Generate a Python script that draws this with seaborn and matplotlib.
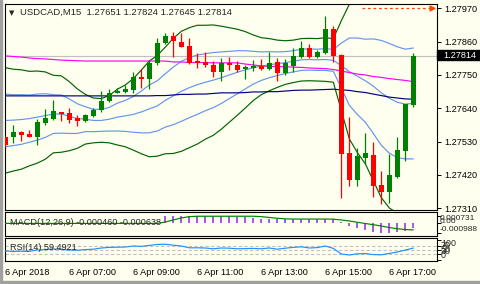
import numpy as np
import pandas as pd
import matplotlib
matplotlib.use("Agg")
import matplotlib.pyplot as plt
from matplotlib.patches import Rectangle
import seaborn as sns

# ---------------- data ----------------
symbol_text = "USDCAD,M15  1.27651 1.27824 1.27645 1.27814"
open_ = [1.27545, 1.27545, 1.27561, 1.27555, 1.27545, 1.27591, 1.27604, 1.27627, 1.27624, 1.27608,
         1.27598, 1.27614, 1.27634, 1.27664, 1.27690, 1.27693, 1.27700, 1.27743, 1.27736, 1.27789,
         1.27855, 1.27878, 1.27858, 1.27845, 1.27796, 1.27792, 1.27783, 1.27759, 1.27789, 1.27783,
         1.27769, 1.27773, 1.27779, 1.27769, 1.27792, 1.27756, 1.27779, 1.27809, 1.27839, 1.27809,
         1.27822, 1.27901, 1.27816, 1.27492, 1.27403, 1.27476, 1.27486, 1.27387, 1.27363, 1.27413,
         1.27499, 1.27651]
high = [1.27548, 1.27585, 1.27565, 1.27568, 1.27604, 1.27637, 1.27667, 1.27628, 1.27641, 1.27618,
        1.27621, 1.27641, 1.27697, 1.27703, 1.27707, 1.27717, 1.27759, 1.27769, 1.27799, 1.27872,
        1.27888, 1.27891, 1.27888, 1.27872, 1.27822, 1.27825, 1.27796, 1.27806, 1.27809, 1.27796,
        1.27783, 1.27799, 1.27802, 1.27825, 1.27806, 1.27802, 1.27839, 1.27862, 1.27852, 1.27832,
        1.27944, 1.27911, 1.27818, 1.27611, 1.27509, 1.27558, 1.27528, 1.27433, 1.27489, 1.27545,
        1.27654, 1.27824]
low = [1.27512, 1.27525, 1.27532, 1.27545, 1.27519, 1.27585, 1.27601, 1.27598, 1.27591, 1.27581,
       1.27594, 1.27611, 1.27627, 1.27660, 1.27689, 1.27690, 1.27690, 1.27707, 1.27703, 1.27783,
       1.27852, 1.27809, 1.27841, 1.27786, 1.27773, 1.27776, 1.27743, 1.27730, 1.27766, 1.27759,
       1.27736, 1.27763, 1.27766, 1.27766, 1.27730, 1.27750, 1.27759, 1.27807, 1.27806, 1.27807,
       1.27819, 1.27793, 1.27344, 1.27383, 1.27383, 1.27456, 1.27347, 1.27324, 1.27327, 1.27410,
       1.27466, 1.27645]
close = [1.27519, 1.27561, 1.27552, 1.27545, 1.27594, 1.27608, 1.27631, 1.27621, 1.27601, 1.27598,
         1.27618, 1.27634, 1.27664, 1.27690, 1.27697, 1.27703, 1.27743, 1.27736, 1.27789, 1.27855,
         1.27878, 1.27862, 1.27842, 1.27789, 1.27789, 1.27783, 1.27759, 1.27789, 1.27783, 1.27766,
         1.27776, 1.27779, 1.27769, 1.27789, 1.27756, 1.27789, 1.27812, 1.27839, 1.27809, 1.27825,
         1.27901, 1.27812, 1.27489, 1.27403, 1.27482, 1.27492, 1.27383, 1.27363, 1.27420, 1.27502,
         1.27654, 1.27814]
ma_magenta = [1.27813, 1.27811, 1.27809, 1.27806, 1.27804, 1.27803, 1.27801, 1.27799, 1.27798, 1.27797,
              1.27796, 1.27796, 1.27796, 1.27796, 1.27796, 1.27796, 1.27796, 1.27796, 1.27796, 1.27796,
              1.27796, 1.27793, 1.27793, 1.27791, 1.27791, 1.27791, 1.27790, 1.27790, 1.27790, 1.27790,
              1.27786, 1.27783, 1.27780, 1.27778, 1.27778, 1.27777, 1.27776, 1.27775, 1.27773, 1.27772,
              1.27771, 1.27768, 1.27763, 1.27758, 1.27753, 1.27750, 1.27745, 1.27742, 1.27738, 1.27735,
              1.27732, 1.27728]
ma_navy = [1.27681] * 19 + [1.27682, 1.27682, 1.27684, 1.27686, 1.27686, 1.27687, 1.27687, 1.27689,
           1.27691, 1.27691, 1.27691, 1.27692, 1.27694, 1.27694, 1.27695, 1.27695, 1.27697, 1.27699,
           1.27700, 1.27700, 1.27701, 1.27702, 1.27703, 1.27701, 1.27699, 1.27695, 1.27692, 1.27687,
           1.27682, 1.27677, 1.27674, 1.27671, 1.27670]
bb_mid = [1.27600, 1.27601, 1.27603, 1.27606, 1.27611, 1.27616, 1.27621, 1.27621, 1.27614, 1.27606,
          1.27604, 1.27600, 1.27600, 1.27604, 1.27611, 1.27615, 1.27620, 1.27628, 1.27638, 1.27648,
          1.27666, 1.27681, 1.27696, 1.27708, 1.27718, 1.27726, 1.27733, 1.27741, 1.27750, 1.27759,
          1.27767, 1.27774, 1.27779, 1.27784, 1.27787, 1.27791, 1.27795, 1.27800, 1.27801, 1.27800,
          1.27801, 1.27798, 1.27781, 1.27761, 1.27746, 1.27731, 1.27713, 1.27691, 1.27673, 1.27660,
          1.27654, 1.27656]
bb_dev = [0.00087, 0.00084, 0.00082, 0.00078, 0.00076, 0.00072, 0.00064, 0.00063, 0.00057, 0.00049,
          0.00041, 0.00037, 0.00036, 0.00039, 0.00046, 0.00051, 0.00059, 0.00069, 0.00079, 0.00083,
          0.00088, 0.00095, 0.00099, 0.00099, 0.00098, 0.00094, 0.00091, 0.00085, 0.00078, 0.00071,
          0.00063, 0.00054, 0.00047, 0.00043, 0.00039, 0.00036, 0.00035, 0.00035, 0.00035, 0.00035,
          0.00036, 0.00036, 0.00074, 0.00111, 0.00126, 0.00137, 0.00156, 0.00173, 0.00181, 0.00183,
          0.00181, 0.00183]
macd_main = [0.0] * 20 + [0.00070, 0.00073, 0.00072, 0.00071, 0.00072, 0.00073, 0.00073, 0.00072,
             0.00071, 0.00069, 0.00066, 0.00052, 0.00045, 0.00042, 0.00040, 0.00040, 0.00042, 0.00043,
             0.00041, 0.00040, 0.00045, 0.00046, 0.00010, -0.00025, -0.00045, -0.00062, -0.00085,
             -0.00099, -0.00097, -0.00085, -0.00072, -0.00046]
macd_signal = [0.00001] * 20 + [0.00015, 0.00035, 0.00055, 0.00068, 0.00072, 0.00072, 0.00072, 0.00072,
               0.00072, 0.00072, 0.00072, 0.00072, 0.00068, 0.00060, 0.00052, 0.00046, 0.00044, 0.00044,
               0.00044, 0.00044, 0.00044, 0.00043, 0.00035, 0.00025, 0.00012, 0.00000, -0.00012,
               -0.00025, -0.00040, -0.00052, -0.00060, -0.00064]
rsi = [45, 43, 44, 43, 50, 52, 55, 53, 50, 49, 52, 54, 60, 63, 64, 65, 70, 68, 73, 78,
       79, 74, 70, 61, 61, 60, 56, 60, 59, 56, 57, 58, 56, 60, 54, 59, 63, 66, 60, 62,
       70, 58, 30, 25, 31, 32, 27, 26, 33, 40, 50, 59.49]
macd_text = "MACD(12,26,9) -0.000460 -0.000638"
rsi_text = "RSI(14) 59.4921"
time_labels = ["6 Apr 2018", "6 Apr 07:00", "6 Apr 09:00", "6 Apr 11:00",
               "6 Apr 13:00", "6 Apr 15:00", "6 Apr 17:00"]
time_label_idx = [0, 8, 16, 24, 32, 40, 48]
price_ticks = [1.27970, 1.27860, 1.27750, 1.27640, 1.27530, 1.27420, 1.27310]
last_price = 1.27814
alert_price = 1.27970
alert_from = 44.6
macd_ticks = [0.000731, 0.0, -0.000988]
macd_tick_labels = ["0.000731", "0.00", "-0.000988"]
rsi_ticks = [100, 70, 50, 30, 0]
rsi_levels = [70, 50, 30]

# ---------------- styling ----------------
sns.set_style("white")
plt.rcParams["font.family"] = ["Liberation Sans", "DejaVu Sans"]
BG = "#FFFFF0"
UP = "#008000"
DN = "#FF0000"
FS = 6.6

W, H = 481, 284
fig = plt.figure(figsize=(W / 100, H / 100), dpi=100)
fig.patch.set_facecolor(BG)


def px_axes(x0, y0, x1, y1):
    return fig.add_axes([x0 / W, 1 - y1 / H, (x1 - x0) / W, (y1 - y0) / H])


def fig_rect(x0, y0, x1, y1, color, z=0):
    fig.patches.append(Rectangle((x0 / W, 1 - y1 / H), (x1 - x0) / W, (y1 - y0) / H,
                                 transform=fig.transFigure, color=color, zorder=z))


n = len(close)
idx = np.arange(n)
df = pd.DataFrame({"i": idx, "open": open_, "high": high, "low": low, "close": close,
                   "mag": ma_magenta, "navy": ma_navy, "mid": bb_mid, "dev": bb_dev,
                   "macd": macd_main, "sig": macd_signal, "rsi": rsi})
df["up1"] = df["mid"] + df["dev"]
df["lo1"] = df["mid"] - df["dev"]
df["up2"] = df["mid"] + 2 * df["dev"]
df["lo2"] = df["mid"] - 2 * df["dev"]

XL = (-0.0375, 53.96)
LW = 0.85


def style_ax(ax):
    ax.set_facecolor(BG)
    for s in ax.spines.values():
        s.set_color("black")
        s.set_linewidth(0.8)
    ax.set_xlim(*XL)
    ax.tick_params(axis="both", labelsize=FS, length=3, width=0.7, color="black",
                   pad=2, labelcolor="black")


# main panel
ax = px_axes(5, 4, 437, 210)
style_ax(ax)
ax.set_ylim(1.279974 - 0.000033 * 210, 1.279974 - 0.000033 * 4)
ax.axhline(last_price, color="#C0C0C0", lw=LW, zorder=1)

for col, c in [("up2", "#006400"), ("lo2", "#006400"), ("up1", "#6495ED"),
               ("mid", "#6495ED"), ("lo1", "#6495ED"), ("mag", "#FF00FF"), ("navy", "#000080")]:
    sns.lineplot(data=df, x="i", y=col, color=c, lw=LW, ax=ax, zorder=2)

colors = [UP if c >= o else DN for o, c in zip(open_, close)]
ax.vlines(idx, low, high, colors=colors, lw=0.9, zorder=3)
bottoms = np.minimum(open_, close)
heights = np.maximum(np.abs(np.array(close) - np.array(open_)), 0.00003)
ax.bar(idx, heights, bottom=bottoms, width=0.64, color=colors, linewidth=0, zorder=4)

ax.hlines(alert_price, alert_from, 53.15, colors="#FF4500", lw=0.9,
          linestyles=(0, (2.2, 2.2)), zorder=5)
ax.plot([53.35], [alert_price], marker=">", ms=3.5, color="#FF4500", zorder=5, clip_on=False)

ax.yaxis.tick_right()
ax.set_yticks(price_ticks)
ax.set_yticklabels([f"{p:.5f}" for p in price_ticks])
ax.set_xticks([])
ax.set_xlabel("")
ax.set_ylabel("")

# current price box
fig_rect(437.5, 50, 481, 60, "black", z=5)
fig.text(443 / W, 1 - 55.3 / H, f"{last_price:.5f}", fontsize=FS, color="white",
         ha="left", va="center", zorder=6)

fig.text(9 / W, 1 - 13 / H, "\u25BC", fontsize=5, family="DejaVu Sans", va="center", ha="left")
fig.text(20 / W, 1 - 12.8 / H, symbol_text, fontsize=6.8, va="center", ha="left")

# MACD panel (zero level near y=223.5 px)
axm = px_axes(5, 212, 437, 236)
style_ax(axm)
axm.set_ylim(-0.00124, 0.00114)
axm.vlines(idx, 0, macd_main, colors="#8A2BE2", lw=1.1, zorder=2)
sns.lineplot(data=df, x="i", y="sig", color="#008000", lw=LW, ax=axm, zorder=3)
axm.yaxis.tick_right()
axm.set_yticks(macd_ticks)
axm.set_yticklabels([])
axm.set_xticks([])
axm.set_xlabel("")
axm.set_ylabel("")
for lab, ypx in zip(macd_tick_labels, [218.0, 221.5, 229.5]):
    fig.text(440 / W, 1 - ypx / H, lab, fontsize=6.0, ha="left", va="center")
axm.text(5 / 432, 0.55, macd_text, transform=axm.transAxes, fontsize=FS, va="center", ha="left")

# RSI panel
axr = px_axes(5, 238, 437, 261)
style_ax(axr)
axr.set_ylim(-5, 110)
for lv in rsi_levels:
    axr.axhline(lv, color="#C0C0C0", lw=0.8, ls=(0, (3, 2)), zorder=1)
sns.lineplot(data=df, x="i", y="rsi", color="#1E90FF", lw=LW, ax=axr, zorder=3)
axr.yaxis.tick_right()
axr.set_yticks(rsi_ticks)
axr.set_yticklabels([])
for t, ypx in zip(rsi_ticks, [243.0, 245.5, 249.0, 252.0, 255.0]):
    fig.text(441 / W, 1 - ypx / H, str(t), fontsize=6.4, ha="left", va="center")
axr.set_xticks(time_label_idx)
axr.set_xticklabels(time_labels, ha="left")
axr.set_xlabel("")
axr.set_ylabel("")
axr.text(5 / 432, 0.6, rsi_text, transform=axr.transAxes, fontsize=FS, va="center", ha="left")

# window frame
fig_rect(0, 0, 2, H, "#A0A0A0")
fig_rect(0, H - 3, W, H, "#A0A0A0")

fig.savefig("out.png", dpi=100, facecolor=BG)
